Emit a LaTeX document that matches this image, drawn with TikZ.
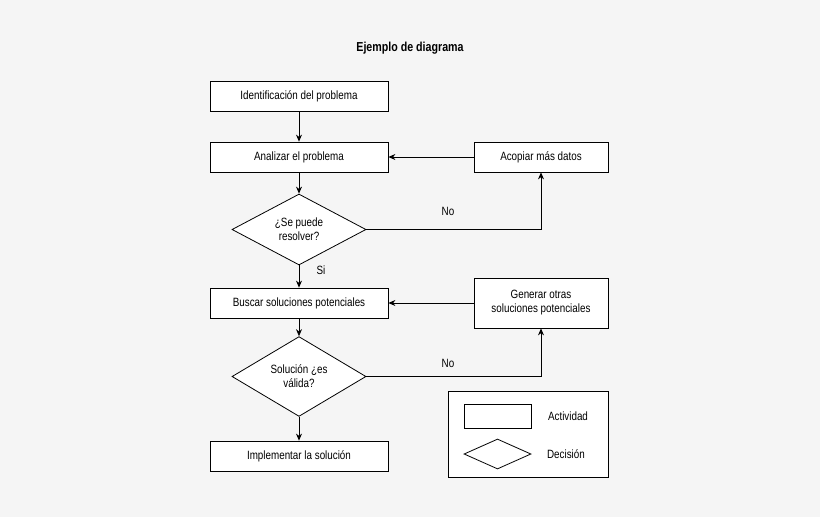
\documentclass[tikz,border=0pt]{standalone}
\usepackage{fontspec}
\setmainfont[FakeStretch=0.82]{Liberation Sans}
\usetikzlibrary{shapes.geometric,arrows.meta}
\begin{document}
\begin{tikzpicture}[x=1pt,y=-1pt,
 box/.style={draw,fill=white,line width=0.8pt,minimum width=178pt,minimum height=30pt,inner sep=1pt,font=\fontsize{12}{14}\selectfont,align=center},
 sbox/.style={box,minimum width=134pt},
 dia/.style={draw,fill=white,line width=0.8pt,diamond,minimum width=134pt,minimum height=61pt,inner sep=0pt,font=\fontsize{12}{14}\selectfont,align=center},
 lbl/.style={font=\fontsize{12}{14}\selectfont},
 arr/.style={draw,line width=0.8pt,-{Stealth[length=7pt,width=6pt]}}]
\fill[fill={rgb,255:red,245;green,245;blue,245}] (0,0) rectangle (820,517);
\useasboundingbox (0,0) rectangle (820,517);
\node[font=\bfseries\fontsize{13}{15}\selectfont] (t) at (410,48) {Ejemplo de diagrama};
\node[box] (b1) at (299,96.5) {Identificación del problema};
\node[box] (b2) at (299,157) {Analizar el problema};
\node[sbox] (ac) at (541,157) {Acopiar más datos};
\node[dia] (d1) at (299,229.5) {¿Se puede\\resolver?};
\node[box] (b3) at (299,303) {Buscar soluciones potenciales};
\node[sbox,minimum height=50pt] (ge) at (541,303) {Generar otras\\soluciones potenciales};
\node[dia] (d2) at (299,376.5) {Solución ¿es\\válida?};
\node[box] (b4) at (299,456) {Implementar la solución};
\coordinate (c1) at (541,229.5);
\coordinate (c2) at (541,376.5);
\path[arr] (b1) -- (b2);
\path[arr] (b2) -- (d1);
\path[arr] (d1) -- (b3);
\path[arr] (b3) -- (d2);
\path[arr] (d2) -- (b4);
\path[arr] (d1.east) -- (c1) -- (ac.south);
\path[arr] (d2.east) -- (c2) -- (ge.south);
\path[arr] (ac) -- (b2);
\path[arr] (ge) -- (b3);
\node[lbl] (n1) at (448,211) {No};
\node[lbl] (n2) at (448,363) {No};
\node[lbl] (s1) at (321,270) {Si};
\node[draw,fill=white,line width=0.8pt,minimum width=160pt,minimum height=86pt] (leg) at (528,434) {};
\node[draw,line width=0.8pt,minimum width=67pt,minimum height=24pt] (lr) at (497.5,416) {};
\node[draw,diamond,line width=0.8pt,minimum width=67pt,minimum height=30pt,inner sep=0pt] (ld) at (497.5,454) {};
\node[lbl] (la) at (568,416) {Actividad};
\node[lbl] (lb) at (566,454) {Decisión};
\end{tikzpicture}
\end{document}
